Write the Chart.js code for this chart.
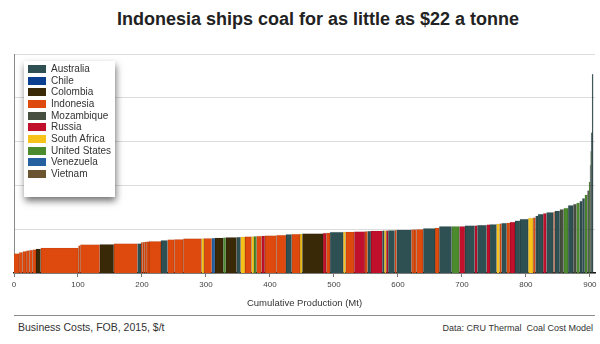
<!DOCTYPE html>
<html>
<head>
<meta charset="utf-8">
<script src="https://cdn.jsdelivr.net/npm/chart.js@4.4.1/dist/chart.umd.min.js"></script>
<style>
  html, body { margin:0; padding:0; background:#fff; }
  body { width:600px; height:344px; position:relative; overflow:hidden; font-family:"Liberation Sans", Arial, sans-serif; }
  #title { position:absolute; left:0; width:636px; top:9px; text-align:center; font-weight:bold; font-size:18px; color:#222; }
  #wrap { position:absolute; left:0; top:0; width:600px; height:313px; }
  #legend { position:absolute; left:24px; top:61px; width:91px; height:136px; background:#fff;
            box-shadow: 1px 4px 7px rgba(0,0,0,0.55); }
  .item { position:absolute; left:4px; height:12px; font-size:10px; color:#333; line-height:12px; white-space:nowrap; }
  .sw { display:inline-block; width:18px; height:8px; vertical-align:-1px; margin-right:5px; }
  #rule { position:absolute; left:14px; width:581px; top:315px; height:1px; background:#8c8c8c; }
  #foot1 { position:absolute; left:18px; top:321px; font-size:10.5px; color:#333; }
  #foot2 { position:absolute; right:7px; top:323px; font-size:9px; color:#333; }
</style>
</head>
<body>
<div id="title">Indonesia ships coal for as little as $22 a tonne</div>
<div id="wrap"><canvas id="c"></canvas></div>
<div id="legend"></div>
<div id="rule"></div>
<div id="foot1">Business Costs, FOB, 2015, $/t</div>
<div id="foot2">Data: CRU Thermal&nbsp; Coal Cost Model</div>
<script>
// ---- data ----
const countries = ['Australia','Chile','Colombia','Indonesia','Mozambique','Russia','South Africa','United States','Venezuela','Vietnam'];
const countryColors = ['#2f5052','#0b3f8f','#3a2906','#de4a0e','#474f40','#c0102c','#f7c31a','#4c8a2e','#2560a0','#6a5530'];

// each bar: producing country, production (Mt, bar width), business cost ($/t, bar height)
const barCountry = [
 'Indonesia','Indonesia','Indonesia','Indonesia','Indonesia','Indonesia','Colombia','Indonesia','Indonesia','Indonesia',
 'Colombia','Indonesia','Australia','Indonesia','Indonesia','Indonesia','Indonesia','Indonesia','Australia','Indonesia',
 'Indonesia','Indonesia','South Africa','Indonesia','Venezuela','Colombia','United States','Colombia','Australia','South Africa',
 'Indonesia','South Africa','United States','Indonesia','Russia','Indonesia','Indonesia','Australia','Indonesia','South Africa',
 'Colombia','Russia','Indonesia','Australia','South Africa','Indonesia','Russia','Indonesia','Australia','Russia',
 'Australia','South Africa','Russia','Australia','Indonesia','Australia','Indonesia','Indonesia','Indonesia','Australia',
 'Indonesia','Australia','United States','Russia','Australia','Russia','Australia','Russia','Australia','South Africa',
 'Indonesia','Australia','Indonesia','Russia','Australia','Australia','South Africa','Indonesia','Australia','Australia',
 'Russia','Australia','Indonesia','Australia','Mozambique','United States','Australia','Mozambique','United States','Australia',
 'Australia','United States','Mozambique','United States','Australia','United States','Australia','Australia'
];
const barProductionMt = [
 8,5.5,5.5,5,5,5.4,7.3,58.8,3,30.5,
 22,37,5.5,2.5,2.6,3,4.4,18.7,10.3,10.5,
 14,28.5,4,12,5,13,4,17,6,7,
 10,4,4,8,5,18,15,9,13,3.5,
 32.5,5,6,20.5,3.8,13.4,16.7,4.2,5.2,17.7,
 3.1,3.1,3.1,10.2,3,23,4,4,10.5,18.5,
 6.5,19.5,12,8.7,15.3,4,14.6,5.4,10,5,
 3,8,5,8,7.6,13,7.8,3.6,4,8,
 5,11,2,8,6,7,8,5,5,4,
 4,4,2.5,1.5,1,1,1.5,1.5
];
const barCostUSD = [
 22,23.5,24.5,25.5,26,26.5,27.5,28.4,31,32.2,
 32.5,33.3,33.5,34.8,35,35.3,35.6,36,37,37.9,
 38.3,39,39.2,39.5,39.7,40,40.2,40.5,40.8,41,
 41.3,41.5,41.7,42,42.2,42.4,43.2,44,44.3,44.5,
 44.7,45.5,45.8,46.6,46.7,46.8,47,47.4,47.6,48,
 48.1,48.2,48.3,48.5,48.8,49.2,49.4,49.5,49.7,50.7,
 51.5,53,53,53.2,53.8,54,54.5,55,55.5,56,
 56.3,56.8,57.2,58,59.5,61.4,62.5,63,65,67,
 67.8,69,69.5,70.8,72.5,74,77,78.5,80,82,
 85,89,94,104,123,139,160,227
];
const xTicks = [0,100,200,300,400,500,600,700,800,900];
const yTicks = [0,50,100,150,200,250];

// ---- legend ----
const lg = document.getElementById('legend');
countries.forEach((name, i) => {
  const d = document.createElement('div');
  d.className = 'item';
  d.style.top = (2 + i * 11.67) + 'px';
  d.innerHTML = '<span class="sw" style="background:' + countryColors[i] + '"></span>' + name;
  lg.appendChild(d);
});

// ---- datasets: one rectangle per producer ----
const datasets = [];
let cum = 0;
for (let i = 0; i < barCostUSD.length; i++) {
  const x0 = cum, x1 = cum + barProductionMt[i];
  cum = x1;
  const col = countryColors[countries.indexOf(barCountry[i])];
  datasets.push({
    label: barCountry[i],
    data: [{x:x0,y:0},{x:x0,y:barCostUSD[i]},{x:x1,y:barCostUSD[i]},{x:x1,y:0}],
    showLine: true,
    fill: 'origin',
    backgroundColor: col,
    borderColor: 'rgba(0,0,0,0.13)',
    borderWidth: 0.6,
    pointRadius: 0,
    tension: 0
  });
}

new Chart(document.getElementById('c'), {
  type: 'scatter',
  data: { datasets },
  options: {
    responsive: true,
    maintainAspectRatio: false,
    animation: false,
    events: [],
    layout: { padding: { left: 14, top: 54, right: 5, bottom: 0 } },
    plugins: { legend: { display: false }, tooltip: { enabled: false }, title: { display: false } },
    scales: {
      x: {
        type: 'linear', min: 0, max: 908,
        afterBuildTicks: (s) => { s.ticks = xTicks.map(v => ({ value: v })); },
        ticks: { font: { family: "'Liberation Sans Narrow', 'Liberation Sans', Arial", size: 8 }, color: '#444', padding: 3, maxRotation: 0 },
        grid: { drawOnChartArea: false, drawTicks: true, tickLength: 4, color: '#777' },
        border: { color: '#1a1a1a', width: 1.5 },
        title: { display: true, text: 'Cumulative Production (Mt)', color: '#333',
                 font: { family: "'Liberation Sans Narrow', 'Liberation Sans', Arial", size: 9.5 }, padding: { top: 5, bottom: 4 } }
      },
      y: {
        min: 0, max: 250,
        afterBuildTicks: (s) => { s.ticks = yTicks.map(v => ({ value: v })); },
        ticks: { display: false },
        grid: { color: '#dcdcdc', drawTicks: false, lineWidth: 1 },
        border: { color: '#8a8a8a', width: 1 }
      }
    }
  }
});
</script>
</body>
</html>
